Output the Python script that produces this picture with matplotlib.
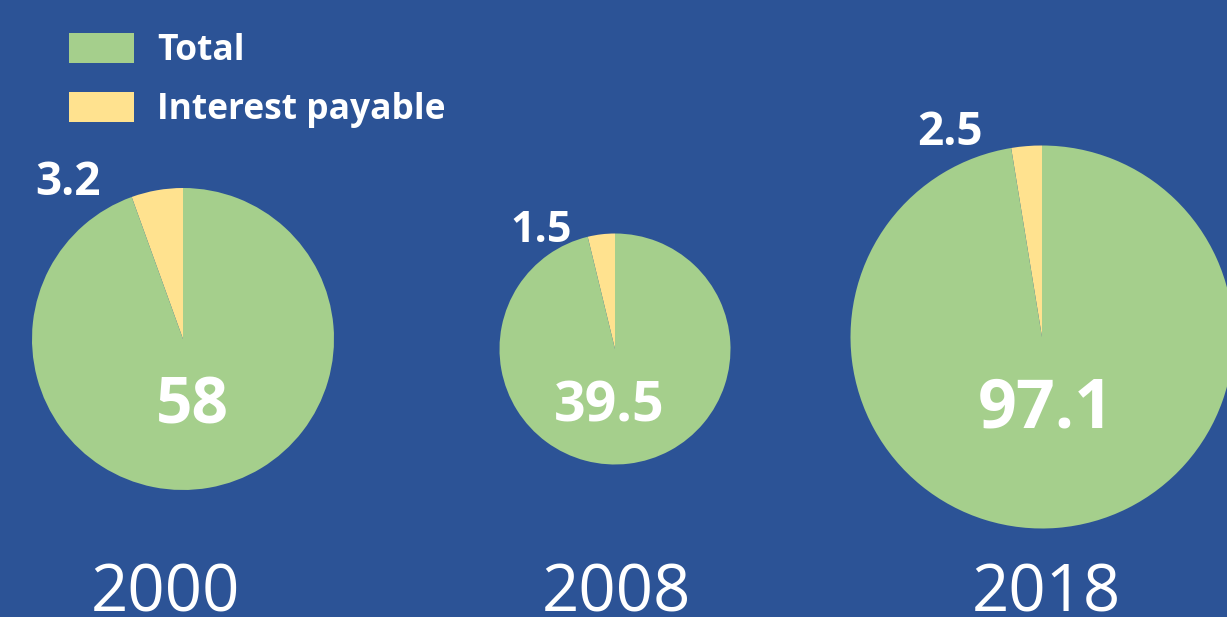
import matplotlib
matplotlib.use("Agg")
import matplotlib.pyplot as plt
from matplotlib.patches import Patch

# ---- data ----
years = ["2000", "2008", "2018"]
totals = [58, 39.5, 97.1]
interest = [3.2, 1.5, 2.5]
series_labels = ["Total", "Interest payable"]

# ---- style / layout ----
W, H = 1227, 617
BG = "#2C5396"
GREEN = "#A5CF8C"
YELLOW = "#FFE28F"
FONT = "Open Sans"

centers = [(183, 339), (615, 349), (1042, 337)]   # pixel coords (y from top)
radii = [151, 115.5, 191.5]
total_lbl = [(192, 423, 46), (609, 422, 40), (1046, 428, 49)]   # x, baseline y, size
int_lbl = [(68, 195, 33), (541, 242, 31), (950, 145, 33)]
year_x = [166, 616, 1046]
year_base = 612

fig = plt.figure(figsize=(W / 100, H / 100), dpi=100, facecolor=BG)
ax = fig.add_axes([0, 0, 1, 1])
ax.set_facecolor(BG)

for i in range(len(years)):
    cx, cy = centers[i]
    ax.pie([interest[i], totals[i] - interest[i]],
           colors=[YELLOW, GREEN], startangle=90, counterclock=True,
           center=(cx, H - cy), radius=radii[i], frame=True,
           wedgeprops=dict(linewidth=0))
    x, yb, fs = total_lbl[i]
    ax.text(x, H - yb, f"{totals[i]:g}", color="white", fontsize=fs,
            fontweight="bold", family=FONT, ha="center", va="baseline")
    x, yb, fs = int_lbl[i]
    ax.text(x, H - yb, f"{interest[i]:g}", color="white", fontsize=fs,
            fontweight="bold", family=FONT, ha="center", va="baseline")
    ax.text(year_x[i], H - year_base, years[i], color="white", fontsize=47,
            family=FONT, ha="center", va="baseline")

ax.set_xlim(0, W)
ax.set_ylim(0, H)
ax.set_aspect("equal")
ax.axis("off")

handles = [Patch(facecolor=GREEN, edgecolor="none"),
           Patch(facecolor=YELLOW, edgecolor="none")]
leg = ax.legend(handles, series_labels, loc="upper left",
                bbox_to_anchor=(69 / W, 1 - 33 / H), frameon=False,
                prop=dict(family=FONT, weight="bold", size=25.5),
                handlelength=1.84, handleheight=0.93, handletextpad=0.65,
                labelspacing=0.65, borderpad=0, borderaxespad=0)
for t in leg.get_texts():
    t.set_color("white")

fig.savefig("out.png", dpi=100, facecolor=BG)
